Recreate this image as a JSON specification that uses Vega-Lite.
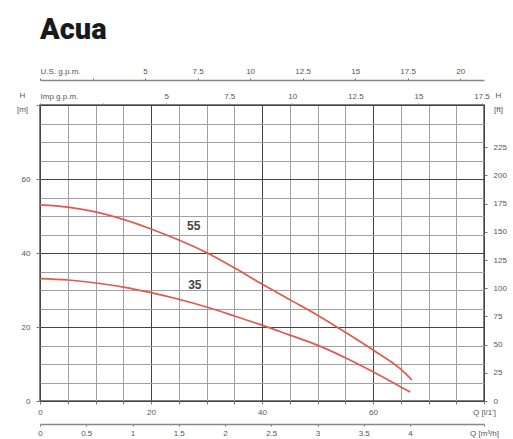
{
  "$schema": "https://vega.github.io/schema/vega-lite/v6.json",
  "autosize": {"type": "none"},
  "padding": {"left": 40, "top": 105, "right": 29, "bottom": 38},
  "width": 444,
  "height": 296,
  "background": "white",
  "title": {"text": "Acua", "anchor": "start", "frame": "group", "font": "Roboto", "fontSize": 29, "fontWeight": 900, "color": "#1a1a1a", "offset": 22},
  "config": {
    "view": {"stroke": "#555", "strokeWidth": 1.5},
    "axis": {"labelFont": "Liberation Sans", "labelFontSize": 8, "labelColor": "#555", "titleFont": "Liberation Sans", "titleFontSize": 8, "titleColor": "#555", "titleFontWeight": "normal", "tickColor": "#777", "domainColor": "#888", "tickCount": 40, "format": "~g"}
  },
  "datasets": {
    "curves": [
      {"q": 0, "h": 53, "pump": "55"}, {"q": 5, "h": 52.4, "pump": "55"}, {"q": 10, "h": 51.1, "pump": "55"}, {"q": 15, "h": 49.1, "pump": "55"}, {"q": 20, "h": 46.5, "pump": "55"}, {"q": 25, "h": 43.5, "pump": "55"}, {"q": 30, "h": 40.1, "pump": "55"}, {"q": 35, "h": 36, "pump": "55"}, {"q": 40, "h": 31.6, "pump": "55"}, {"q": 45, "h": 27.4, "pump": "55"}, {"q": 50, "h": 23.2, "pump": "55"}, {"q": 55, "h": 18.6, "pump": "55"}, {"q": 60, "h": 13.8, "pump": "55"}, {"q": 65, "h": 8.6, "pump": "55"}, {"q": 67, "h": 5.7, "pump": "55"},
      {"q": 0, "h": 33.1, "pump": "35"}, {"q": 5, "h": 32.7, "pump": "35"}, {"q": 10, "h": 31.9, "pump": "35"}, {"q": 15, "h": 30.8, "pump": "35"}, {"q": 20, "h": 29.3, "pump": "35"}, {"q": 25, "h": 27.5, "pump": "35"}, {"q": 30, "h": 25.4, "pump": "35"}, {"q": 35, "h": 23, "pump": "35"}, {"q": 40, "h": 20.5, "pump": "35"}, {"q": 45, "h": 17.8, "pump": "35"}, {"q": 50, "h": 15.1, "pump": "35"}, {"q": 55, "h": 11.7, "pump": "35"}, {"q": 60, "h": 7.9, "pump": "35"}, {"q": 65, "h": 3.8, "pump": "35"}, {"q": 66.7, "h": 2.4, "pump": "35"}
    ],
    "labels": [{"q": 27.7, "h": 47.4, "pump": "55"}, {"q": 27.9, "h": 31.4, "pump": "35"}],
    "extent": [{"usgpm": 21.14, "impgpm": 17.6, "m3h": 4.8, "ft": 262.5}]
  },
  "layer": [
    {
      "layer": [
        {
          "data": {"name": "curves"},
          "mark": {"type": "line", "interpolate": "monotone", "color": "#e2584f", "strokeWidth": 1.7},
          "encoding": {
            "x": {"field": "q", "type": "quantitative", "scale": {"domain": [0, 80], "nice": false},
              "axis": {"orient": "bottom", "title": null, "values": [0,5,10,15,20,25,30,35,40,45,50,55,60,65,70,75,80], "tickCount": 40, "grid": true,
                "gridColor": {"condition": {"test": "datum.value % 20 === 0", "value": "#444"}, "value": "#a0a0a0"},
                "domain": false, "tickSize": 3, "labelPadding": 4, "labelFlush": false,
                "labelExpr": "datum.value === 80 ? \"Q [l/1']\" : (datum.value % 20 === 0 ? datum.label : '')"}},
            "y": {"field": "h", "type": "quantitative", "scale": {"domain": [0, 80], "nice": false},
              "axis": {"orient": "left", "values": [0,5,10,15,20,25,30,35,40,45,50,55,60,65,70,75,80], "tickCount": 40, "grid": true,
                "gridColor": {"condition": {"test": "datum.value % 20 === 0", "value": "#444"}, "value": "#a0a0a0"},
                "domain": false, "tickSize": {"condition": {"test": "datum.value % 20 === 0", "value": 4}, "value": 0}, "labelPadding": 6, "labelFlush": false,
                "labelExpr": "datum.value % 20 === 0 && datum.value < 80 ? datum.label : ''",
                "title": ["H", "[m]"], "titleAngle": 0, "titleX": -18, "titleY": -14, "titleAlign": "center", "titleBaseline": "top", "titleLineHeight": 14}},
            "detail": {"field": "pump"}
          }
        },
        {
          "data": {"name": "labels"},
          "mark": {"type": "text", "font": "Liberation Sans", "fontSize": 12, "fontWeight": "bold", "color": "#444"},
          "encoding": {
            "x": {"field": "q", "type": "quantitative"},
            "y": {"field": "h", "type": "quantitative"},
            "text": {"field": "pump"}
          }
        }
      ]
    },
    {
      "data": {"name": "extent"},
      "mark": {"type": "point", "opacity": 0},
      "encoding": {
        "x": {"field": "usgpm", "type": "quantitative", "scale": {"domain": [0, 21.134], "nice": false},
          "axis": {"orient": "top", "offset": 25, "values": [0,2.5,5,7.5,10,12.5,15,17.5,20], "tickCount": 40, "domain": true, "domainWidth": 1.5, "tickSize": 2, "labelPadding": 3, "labelFlush": false,
            "labelExpr": "datum.value >= 5 ? datum.label : ''",
            "title": "U.S. g.p.m.", "titleX": 0, "titleY": -5, "titleAlign": "left", "titleBaseline": "bottom"}}
      }
    },
    {
      "data": {"name": "extent"},
      "mark": {"type": "point", "opacity": 0},
      "encoding": {
        "x": {"field": "impgpm", "type": "quantitative", "scale": {"domain": [0, 17.598], "nice": false},
          "axis": {"orient": "top", "offset": 0, "values": [0,2.5,5,7.5,10,12.5,15,17.5], "tickCount": 40, "domain": false, "tickSize": 2, "labelPadding": 3, "labelFlush": false,
            "labelExpr": "datum.value >= 5 ? datum.label : ''",
            "title": "Imp g.p.m.", "titleX": 0, "titleY": -5, "titleAlign": "left", "titleBaseline": "bottom"}}
      }
    },
    {
      "data": {"name": "extent"},
      "mark": {"type": "point", "opacity": 0},
      "encoding": {
        "x": {"field": "m3h", "type": "quantitative", "scale": {"domain": [0, 4.8], "nice": false},
          "axis": {"orient": "bottom", "offset": 23, "values": [0,0.5,1,1.5,2,2.5,3,3.5,4,4.8], "tickCount": 40, "domain": true, "domainWidth": 1.5, "tickSize": 2, "labelPadding": 3, "labelFlush": false,
            "labelExpr": "datum.value > 4.5 ? 'Q [m³/h]' : datum.label", "title": null}}
      }
    },
    {
      "data": {"name": "extent"},
      "mark": {"type": "point", "opacity": 0},
      "encoding": {
        "y": {"field": "ft", "type": "quantitative", "scale": {"domain": [0, 262.47], "nice": false},
          "axis": {"orient": "right", "values": [0,25,50,75,100,125,150,175,200,225], "tickCount": 40, "domain": false, "tickSize": 3, "labelPadding": 6, "labelFlush": false,
            "title": ["H", "[ft]"], "titleAngle": 0, "titleX": 14, "titleY": -14, "titleAlign": "center", "titleBaseline": "top", "titleLineHeight": 14}}
      }
    }
  ],
  "resolve": {"scale": {"x": "independent", "y": "independent"}, "axis": {"x": "independent", "y": "independent"}}
}
